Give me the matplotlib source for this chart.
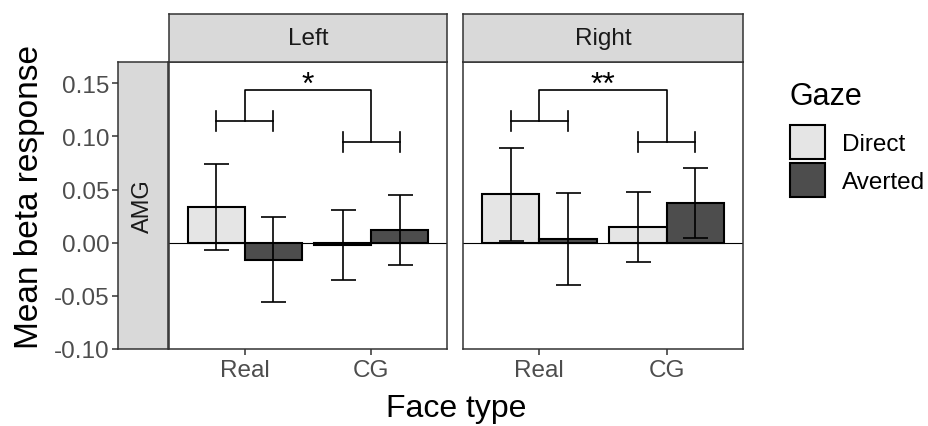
import matplotlib.pyplot as plt
import numpy as np
from matplotlib.patches import Patch

plt.rcParams['font.family'] = ['Liberation Sans', 'DejaVu Sans']
plt.rcParams['axes.unicode_minus'] = False

# dati
face_types = ['Real', 'CG']
hemispheres = ['Left', 'Right']
gaze_labels = ['Direct', 'Averted']

left_direct = [0.0335, -0.002]
left_direct_err = [0.0405, 0.033]
left_averted = [-0.016, 0.012]
left_averted_err = [0.040, 0.033]

right_direct = [0.0455, 0.015]
right_direct_err = [0.0435, 0.033]
right_averted = [0.0035, 0.037]
right_averted_err = [0.0435, 0.033]

# parentesi di significatività: livello basso (Real, CG), livello alto, etichetta
bracket_low = [0.1145, 0.095]
bracket_top = 0.144
bracket_labels = ['*', '**']

direct_color = '#e5e5e5'
averted_color = '#4d4d4d'
strip_color = '#d9d9d9'
border_color = '#333333'
tick_color = '#4d4d4d'

fig = plt.figure(figsize=(9.29, 4.27), dpi=100)

W, H = 929, 427
def box(x0, y0, x1, y1):
    return [x0 / W, (H - y1) / H, (x1 - x0) / W, (y1 - y0) / H]

ax_amg = fig.add_axes(box(118, 63, 168, 350))
ax_l = fig.add_axes(box(169, 63, 447, 350), sharey=ax_amg)
ax_r = fig.add_axes(box(463, 63, 743, 350), sharey=ax_amg)
strip_l = fig.add_axes(box(169, 15, 447, 63))
strip_r = fig.add_axes(box(463, 15, 743, 63))

# striscia AMG con asse y
ax_amg.set_facecolor(strip_color)
ax_amg.set_ylim(-0.10, 0.17)
yticks = [-0.10, -0.05, 0.00, 0.05, 0.10, 0.15]
ax_amg.set_yticks(yticks)
ax_amg.set_yticklabels([f'{v:.2f}' for v in yticks])
ax_amg.tick_params(axis='y', labelsize=17.5, labelcolor=tick_color, color=border_color,
                   length=4, width=1.1, pad=2)
ax_amg.set_xticks([])
ax_amg.text(0.5, 0.5, 'AMG', rotation=90, ha='center', va='center',
            fontsize=17, color='#1a1a1a', transform=ax_amg.transAxes)
for s in ax_amg.spines.values():
    s.set_color(border_color)
    s.set_linewidth(1.1)

x = np.arange(1, len(face_types) + 1)
bw = 0.45

panels = [
    (ax_l, left_direct, left_direct_err, left_averted, left_averted_err),
    (ax_r, right_direct, right_direct_err, right_averted, right_averted_err),
]

for i, (ax, d, de, a, ae) in enumerate(panels):
    ax.axhline(0, color='black', lw=0.8, zorder=1)
    ax.bar(x - bw / 2, d, width=bw, color=direct_color, edgecolor='black', lw=1.5, zorder=2)
    ax.bar(x + bw / 2, a, width=bw, color=averted_color, edgecolor='black', lw=1.5, zorder=2)
    ax.errorbar(x - bw / 2, d, yerr=de, fmt='none', ecolor='black', elinewidth=1.2,
                capsize=9, capthick=1.2, zorder=3)
    ax.errorbar(x + bw / 2, a, yerr=ae, fmt='none', ecolor='black', elinewidth=1.2,
                capsize=9, capthick=1.2, zorder=3)

    # parentesi
    tick_h = 0.0095
    for xc, yl in zip(x, bracket_low):
        ax.plot([xc - bw / 2, xc + bw / 2], [yl, yl], color='black', lw=1.2)
        ax.plot([xc - bw / 2, xc - bw / 2], [yl - tick_h, yl + tick_h], color='black', lw=1.2)
        ax.plot([xc + bw / 2, xc + bw / 2], [yl - tick_h, yl + tick_h], color='black', lw=1.2)
    ax.plot([x[0], x[0], x[1], x[1]], [bracket_low[0], bracket_top, bracket_top, bracket_low[1]],
            color='black', lw=1.2)
    ax.text(x.mean(), bracket_top - 0.0035, bracket_labels[i], ha='center', va='baseline',
            fontsize=23, color='black')

    ax.set_xlim(0.4, 2.6)
    ax.set_xticks(x)
    ax.set_xticklabels(face_types)
    ax.tick_params(axis='x', labelsize=17.5, labelcolor=tick_color, color=border_color,
                   length=4, width=1.1, pad=3)
    ax.tick_params(axis='y', left=False, labelleft=False)
    for s in ax.spines.values():
        s.set_color(border_color)
        s.set_linewidth(1.1)

for st, name in zip([strip_l, strip_r], hemispheres):
    st.set_facecolor(strip_color)
    st.set_xticks([])
    st.set_yticks([])
    st.text(0.5, 0.5, name, ha='center', va='center', fontsize=17.5, color='#1a1a1a',
            transform=st.transAxes)
    for s in st.spines.values():
        s.set_color(border_color)
        s.set_linewidth(1.1)

fig.text(30 / W, 1 - 197 / H, 'Mean beta response', rotation=90, ha='center', va='center',
         fontsize=24)
fig.text(456 / W, 1 - 409 / H, 'Face type', ha='center', va='center', fontsize=23)

# legenda
fig.text(790 / W, 1 - 105 / H, 'Gaze', ha='left', va='baseline', fontsize=22)
handles = [Patch(facecolor=direct_color, edgecolor='black', lw=1.5),
           Patch(facecolor=averted_color, edgecolor='black', lw=1.5)]
leg = fig.legend(handles, gaze_labels, loc='upper left',
                 bbox_to_anchor=(790 / W, 1 - 126 / H), frameon=False, fontsize=17.5,
                 handlelength=1.45, handleheight=1.8,
                 labelspacing=0.15, handletextpad=0.7, borderpad=0, borderaxespad=0)

plt.savefig('out.png', dpi=100)
plt.close()
